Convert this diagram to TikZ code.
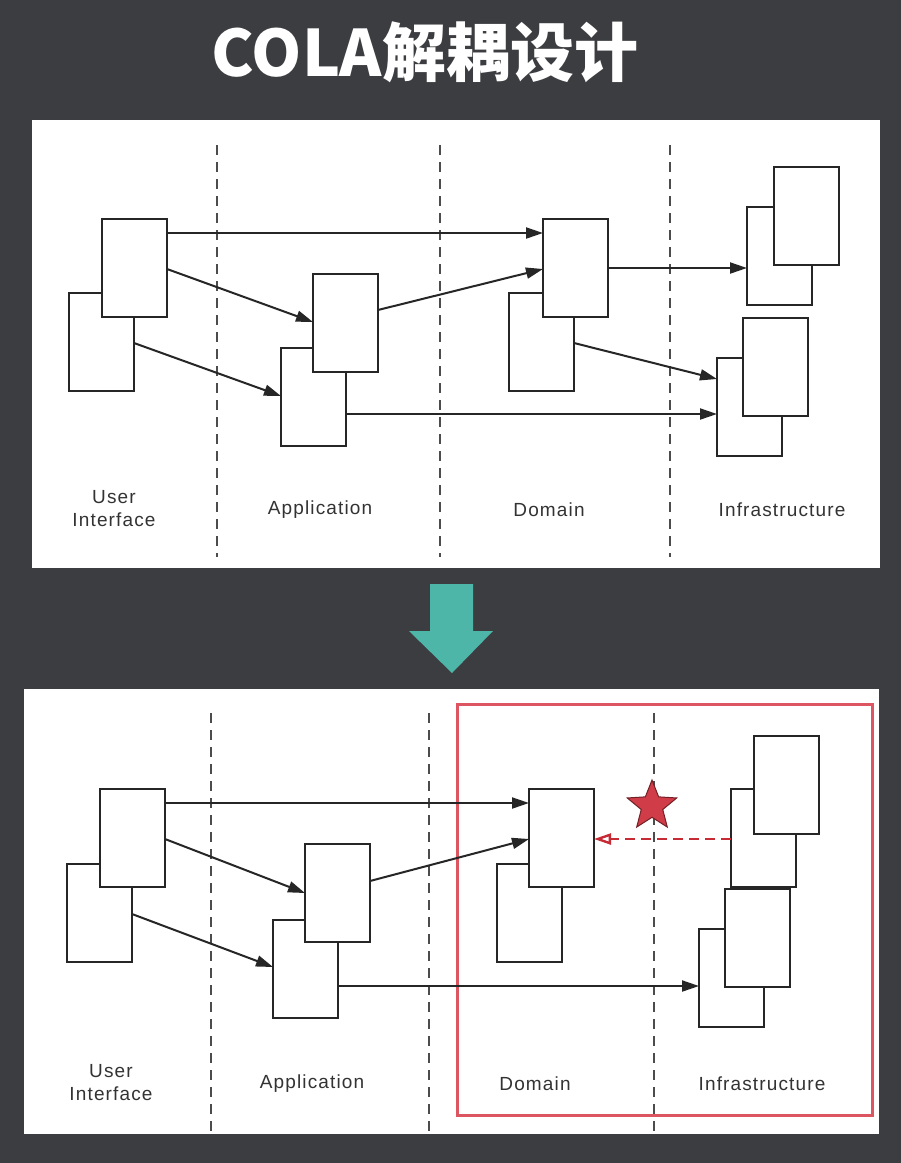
\documentclass[tikz,border=0pt]{standalone}
\usepackage{fontspec}
\setmainfont[LetterSpace=6]{Liberation Sans}
\newfontfamily\cjk{Noto Sans CJK SC}
\usetikzlibrary{arrows.meta,shapes.geometric}

\definecolor{bgdark}{HTML}{3C3D40}
\definecolor{colaTeal}{HTML}{4DB6A9}
\definecolor{frameRed}{HTML}{DC5560}
\definecolor{starRed}{HTML}{D03C47}
\definecolor{depRed}{HTML}{C62A35}

\tikzset{
  blk/.style={draw=black!85, line width=2.4pt, fill=white, minimum width=65pt,
    minimum height=98pt, anchor=north west, inner sep=0pt, outer sep=0pt},
  lbl/.style={font=\fontsize{19}{23}\selectfont, text=black!80, align=center},
  sep/.style={draw=black!70, line width=1.7pt, dash pattern=on 10pt off 7pt},
  flow/.style={draw=black!85, line width=2pt, -{Triangle[length=17pt,width=11pt]}},
}

\begin{document}
\begin{tikzpicture}[x=1pt,y=-1pt]
\useasboundingbox (0,0) rectangle (901,1163);
\fill[bgdark] (0,0) rectangle (901,1163);

% title
\node[font=\cjk\bfseries\fontsize{64}{72}\selectfont, text=white] (title) at (425,52) {COLA解耦设计};

% ---- before ----
\fill[white] (32,120) rectangle (880,568);
\foreach \x in {217,440,670} {
  \draw[sep] (\x,145) -- (\x,557);
}
\node[blk] (uiB) at (69,293) {};
\node[blk] (uiF) at (102,219) {};
\node[blk] (appB) at (281,348) {};
\node[blk] (appF) at (313,274) {};
\node[blk] (domB) at (509,293) {};
\node[blk] (domF) at (543,219) {};
\node[blk] (infB1) at (747,207) {};
\node[blk] (infF1) at (774,167) {};
\node[blk] (infB2) at (717,358) {};
\node[blk] (infF2) at (743,318) {};

\draw[flow] ([yshift=-14pt]uiF.north east) -- ([yshift=-14pt]domF.north west);
\draw[flow] ([yshift=-50pt]uiF.north east) -- ([yshift=-48pt]appF.north west);
\draw[flow] ([yshift=-50pt]uiB.north east) -- ([yshift=-48pt]appB.north west);
\draw[flow] ([yshift=-36pt]appF.north east) -- ([yshift=-50pt]domF.north west);
\draw[flow] ([yshift=-49pt]domF.north east) coordinate (d1) -- (d1 -| infB1.west);
\draw[flow] ([yshift=-50pt]domB.north east) -- ([yshift=-21pt]infB2.north west);
\draw[flow] ([yshift=-66pt]appB.north east) coordinate (a1) -- (a1 -| infB2.west);

\node[lbl] (uiL) at (114,509) {User\\Interface};
\node[lbl] (appL) at (320,510) {Application};
\node[lbl] (domL) at (549,510) {Domain};
\node[lbl] (infL) at (782,510) {Infrastructure};

% ---- arrow down ----
\fill[colaTeal] (430,584) -- (473,584) -- (473,631) -- (493,631) -- (452,673)
  -- (409,631) -- (430,631) -- cycle;

% ---- after ----
\fill[white] (24,689) rectangle (879,1134);
\foreach \x in {211,429,654} {
  \draw[sep] (\x,713) -- (\x,1132);
}
\draw[frameRed, line width=3pt] (457,704) rectangle (872,1115);

\node[blk] (uiB') at (67,864) {};
\node[blk] (uiF') at (100,789) {};
\node[blk] (appB') at (273,920) {};
\node[blk] (appF') at (305,844) {};
\node[blk] (domB') at (497,864) {};
\node[blk] (domF') at (529,789) {};
\node[blk] (infB1') at (731,789) {};
\node[blk] (infF1') at (754,736) {};
\node[blk] (infB2') at (699,929) {};
\node[blk] (infF2') at (725,889) {};

\draw[flow] ([yshift=-14pt]uiF'.north east) -- ([yshift=-14pt]domF'.north west);
\draw[flow] ([yshift=-50pt]uiF'.north east) -- ([yshift=-49pt]appF'.north west);
\draw[flow] ([yshift=-50pt]uiB'.north east) -- ([yshift=-47pt]appB'.north west);
\draw[flow] ([yshift=-37pt]appF'.north east) -- ([yshift=-50pt]domF'.north west);
\draw[flow] ([yshift=-66pt]appB'.north east) coordinate (a2) -- (a2 -| infB2'.west);
\draw[depRed, line width=2.4pt, dash pattern=on 10pt off 6pt,
  -{Triangle[open,length=17pt,width=11pt]}]
  ([yshift=-50pt]infB1'.north west) coordinate (r1) -- (r1 -| domF'.east);

\node[star, star points=5, star point ratio=2.3, minimum size=52pt, inner sep=0pt,
  fill=starRed, draw=starRed!55!black, line width=1pt] (mark) at (652,806) {};

\node[lbl] (uiL') at (111,1083) {User\\Interface};
\node[lbl] (appL') at (312,1084) {Application};
\node[lbl] (domL') at (535,1084) {Domain};
\node[lbl] (infL') at (762,1084) {Infrastructure};
\end{tikzpicture}
\end{document}
